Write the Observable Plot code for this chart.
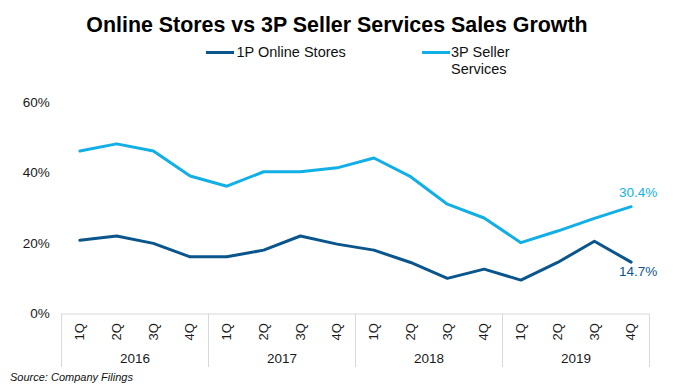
<!DOCTYPE html>
<html><head><meta charset="utf-8">
<script src="https://cdn.jsdelivr.net/npm/d3@7"></script>
<script src="https://cdn.jsdelivr.net/npm/@observablehq/plot@0.6"></script>
<style>
html,body{margin:0;padding:0;background:#fff;}
body{width:673px;height:385px;position:relative;overflow:hidden;font-family:"Liberation Sans",Arial,sans-serif;color:#000;}
#title{position:absolute;left:0;top:12.8px;width:674px;text-align:center;font-weight:bold;font-size:21.4px;line-height:24px;}
.sw{position:absolute;height:3px;width:28px;}
.lt{position:absolute;font-size:14.5px;line-height:17px;color:#111;}
#chart{position:absolute;left:0;top:85px;}
#source{position:absolute;left:10px;top:370.6px;font-size:11px;line-height:13px;font-style:italic;color:#111;}
</style>
</head><body>
<div id="title">Online Stores vs 3P Seller Services Sales Growth</div>
<div class="sw" id="sw1" style="left:206px;top:51.2px;"></div>
<div class="lt" id="lt1" style="left:236.5px;top:44.4px;"></div>
<div class="sw" id="sw2" style="left:421.7px;top:51.2px;"></div>
<div class="lt" id="lt2" style="left:451px;top:44.4px;width:70px;"></div>
<div id="chart"></div>
<div id="source">Source: Company Filings</div>
<script>
const quarters = ["1Q","2Q","3Q","4Q","1Q","2Q","3Q","4Q","1Q","2Q","3Q","4Q","1Q","2Q","3Q","4Q"];
const years = ["2016","2017","2018","2019"];
const onlineStores = [20.9,22.1,20.0,16.2,16.2,18.1,22.1,19.8,18.1,14.6,10.1,12.7,9.6,14.6,20.6,14.7];
const sellerServices = [46.2,48.2,46.2,39.1,36.2,40.3,40.3,41.4,44.2,38.9,31.1,27.2,20.2,23.5,27.1,30.4];
const yTicks = [0,20,40,60];
const seriesNames = ["1P Online Stores","3P Seller Services"];
const darkBlue = "#0A558C";
const lightBlue = "#12AFE6";

document.getElementById("sw1").style.background = darkBlue;
document.getElementById("sw2").style.background = lightBlue;
document.getElementById("lt1").textContent = seriesNames[0];
document.getElementById("lt2").textContent = seriesNames[1];

const rows = quarters.map((q, i) => ({i, q, online: onlineStores[i], seller: sellerServices[i]}));
const yearRows = years.map((year, j) => ({year, pos: j * 4 + 2}));
const seps = d3.range(0, quarters.length + 1, 4);
const last = rows[rows.length - 1];
const xc = d => d.i + 0.5;

const chart = Plot.plot({
  width: 673, height: 285,
  marginLeft: 61, marginRight: 24, marginTop: 16.7, marginBottom: 56.5,
  x: {domain: [0, quarters.length], axis: null},
  y: {domain: [0, 60], ticks: yTicks, tickFormat: d => d + "%", tickSize: 0, tickPadding: 11.7, label: null},
  style: {fontFamily: "'Liberation Sans', Arial, sans-serif", fontSize: "13.5px", color: "#1a1a1a", background: "transparent", overflow: "visible"},
  marks: [
    Plot.ruleY([0], {stroke: "#d9d9d9", strokeWidth: 1}),
    Plot.ruleX(seps, {x: d => d, y1: 0, y2: 0, insetBottom: -53.5, stroke: "#d9d9d9", strokeWidth: 1}),
    Plot.text(rows, {x: xc, y: 0, text: "q", rotate: -90, textAnchor: "end", lineAnchor: "middle", dy: 9.2, fontSize: 13, fill: "#1a1a1a"}),
    Plot.text(yearRows, {x: "pos", y: 0, text: "year", dy: 44.5, fontSize: 13.5, fill: "#1a1a1a"}),
    Plot.line(rows, {x: xc, y: "seller", stroke: lightBlue, strokeWidth: 3, strokeLinejoin: "round", strokeLinecap: "round"}),
    Plot.line(rows, {x: xc, y: "online", stroke: darkBlue, strokeWidth: 3, strokeLinejoin: "round", strokeLinecap: "round"}),
    Plot.text([last], {x: xc, y: "seller", text: d => d.seller.toFixed(1) + "%", dx: 7, dy: -14.3, fill: lightBlue, fontSize: 13.5}),
    Plot.text([last], {x: xc, y: "online", text: d => d.online.toFixed(1) + "%", dx: 7, dy: 9.3, fill: darkBlue, fontSize: 13.5})
  ]
});
document.getElementById("chart").appendChild(chart);
</script>
</body></html>
